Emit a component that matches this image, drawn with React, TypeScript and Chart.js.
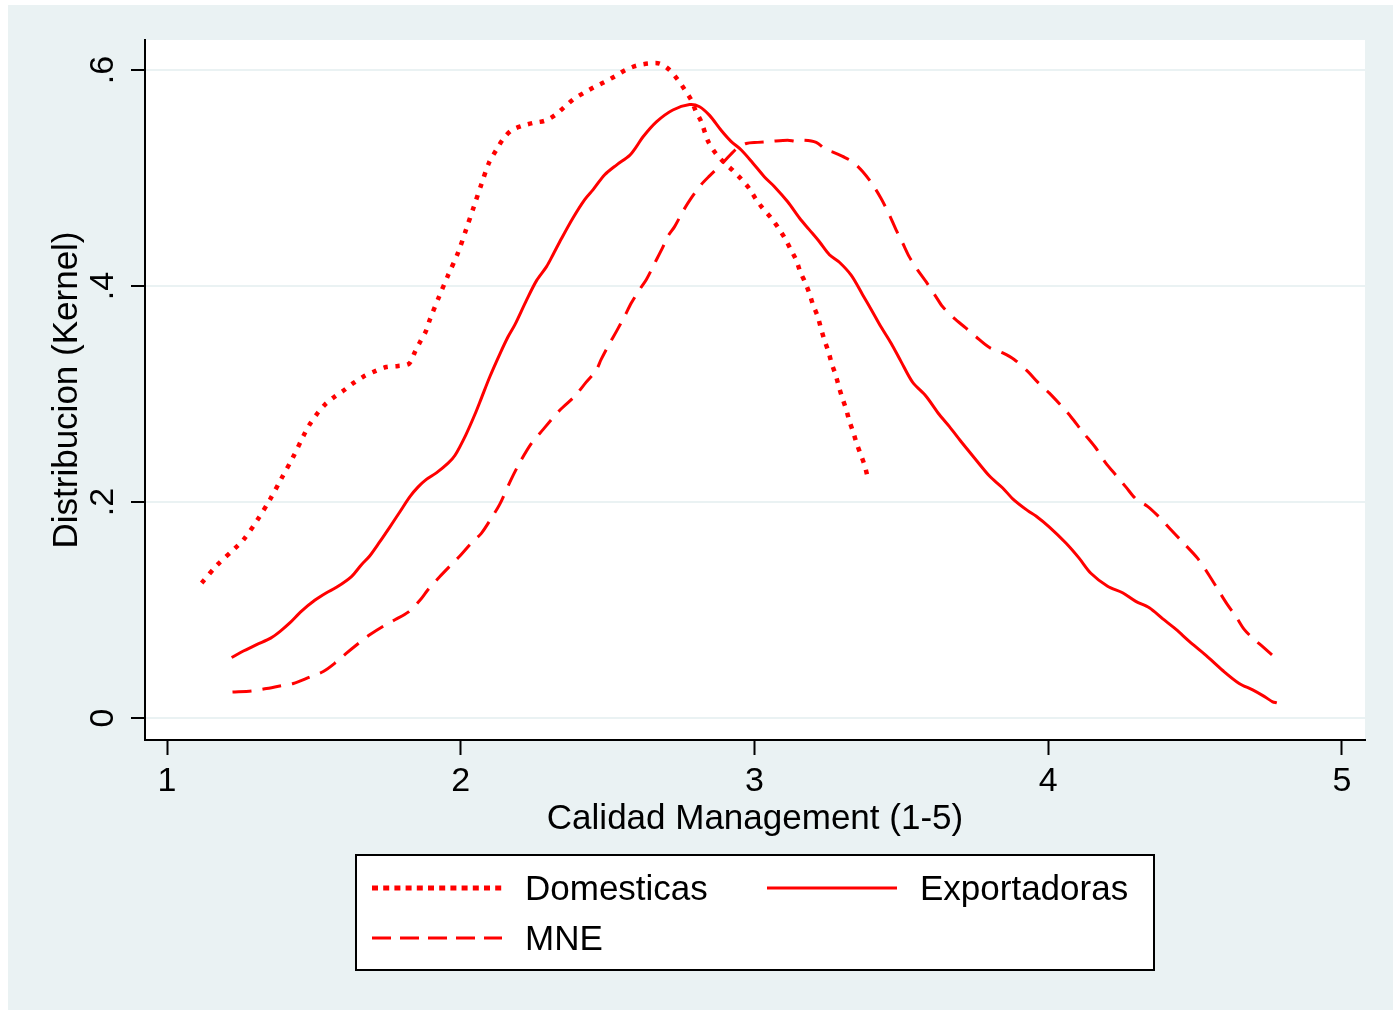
import { useEffect, useRef } from "react";
import { Chart, registerables } from "chart.js";

Chart.register(...registerables);

// ---------- Data ----------
const SERIES_LABELS = ["Domesticas", "Exportadoras", "MNE"];

const DOM_X = [
  1.118, 1.172, 1.231, 1.26, 1.307, 1.35, 1.39, 1.43, 1.466, 1.486, 1.509, 1.537, 1.568, 1.6, 1.634, 1.668,
  1.707, 1.747, 1.787, 1.824, 1.844, 1.861, 1.881, 1.895, 1.926, 1.957, 1.991, 2.019, 2.044, 2.07, 2.096,
  2.121, 2.144, 2.172, 2.206, 2.246, 2.286, 2.32, 2.354, 2.384, 2.42, 2.453, 2.49, 2.524, 2.561, 2.598,
  2.639, 2.677, 2.711, 2.739, 2.762, 2.785, 2.8, 2.819, 2.842, 2.87, 2.898, 2.926, 2.955, 2.983, 3.006,
  3.028, 3.057, 3.083, 3.104, 3.125, 3.142, 3.156, 3.173, 3.187, 3.2, 3.215, 3.226, 3.238, 3.252, 3.263,
  3.276, 3.287, 3.298, 3.312, 3.323, 3.337, 3.348, 3.363, 3.376, 3.385,
];
const DOM_Y = [
  0.125, 0.142, 0.157, 0.165, 0.183, 0.202, 0.222, 0.242, 0.262, 0.272, 0.281, 0.29, 0.297, 0.303, 0.31, 0.316,
  0.321, 0.325, 0.326, 0.328, 0.339, 0.348, 0.358, 0.369, 0.39, 0.41, 0.431, 0.453, 0.473, 0.494, 0.514,
  0.526, 0.536, 0.544, 0.548, 0.551, 0.553, 0.558, 0.566, 0.573, 0.579, 0.584, 0.589, 0.594, 0.6, 0.604,
  0.606, 0.606, 0.6, 0.591, 0.582, 0.572, 0.562, 0.552, 0.534, 0.522, 0.514, 0.507, 0.499, 0.49, 0.48,
  0.472, 0.463, 0.453, 0.444, 0.433, 0.424, 0.413, 0.403, 0.393, 0.382, 0.372, 0.361, 0.35, 0.339, 0.328,
  0.318, 0.307, 0.297, 0.286, 0.275, 0.264, 0.254, 0.243, 0.233, 0.223,
];

const EXP_X = [
  1.22, 1.26, 1.305, 1.353, 1.384, 1.418, 1.458, 1.503, 1.543, 1.577, 1.628, 1.662, 1.69, 1.724, 1.759, 1.793,
  1.827, 1.855, 1.883, 1.917, 1.957, 1.98, 2.017, 2.048, 2.07, 2.099, 2.133, 2.161, 2.184, 2.224, 2.258,
  2.292, 2.314, 2.343, 2.382, 2.422, 2.45, 2.49, 2.53, 2.575, 2.598, 2.62, 2.666, 2.722, 2.779, 2.813,
  2.847, 2.887, 2.92, 2.955, 2.994, 3.034, 3.068, 3.113, 3.153, 3.187, 3.221, 3.255, 3.289, 3.329, 3.368,
  3.402, 3.431, 3.465, 3.499, 3.538, 3.584, 3.629, 3.663, 3.703, 3.748, 3.8, 3.845, 3.879, 3.93, 3.958,
  4.003, 4.06, 4.105, 4.145, 4.202, 4.253, 4.298, 4.344, 4.389, 4.435, 4.48, 4.537, 4.594, 4.65, 4.696,
  4.735, 4.764, 4.778,
];
const EXP_Y = [
  0.056, 0.062, 0.068, 0.074, 0.08, 0.088, 0.099, 0.109, 0.116, 0.121, 0.131, 0.142, 0.15, 0.163, 0.177, 0.191,
  0.205, 0.214, 0.221, 0.227, 0.236, 0.243, 0.262, 0.281, 0.296, 0.316, 0.337, 0.353, 0.364, 0.387, 0.405,
  0.418, 0.429, 0.444, 0.463, 0.48, 0.489, 0.503, 0.512, 0.521, 0.529, 0.538, 0.552, 0.563, 0.568, 0.566,
  0.558, 0.544, 0.534, 0.526, 0.514, 0.501, 0.492, 0.478, 0.463, 0.452, 0.441, 0.429, 0.422, 0.41, 0.392,
  0.376, 0.362, 0.347, 0.33, 0.311, 0.298, 0.281, 0.27, 0.256, 0.241, 0.224, 0.213, 0.203, 0.192, 0.187,
  0.177, 0.162, 0.148, 0.134, 0.122, 0.116, 0.108, 0.102, 0.092, 0.082, 0.071, 0.058, 0.044, 0.032, 0.026,
  0.02, 0.015, 0.014,
];

const MNE_X = [
  1.223, 1.288, 1.333, 1.39, 1.43, 1.486, 1.532, 1.577, 1.611, 1.656, 1.69, 1.736, 1.776, 1.821, 1.861, 1.889,
  1.929, 1.968, 1.997, 2.036, 2.07, 2.104, 2.133, 2.17, 2.2, 2.24, 2.28, 2.337, 2.388, 2.427, 2.461, 2.478,
  2.507, 2.53, 2.558, 2.58, 2.607, 2.632, 2.66, 2.688, 2.705, 2.728, 2.756, 2.781, 2.819, 2.847, 2.892,
  2.938, 2.972, 3.011, 3.057, 3.113, 3.142, 3.17, 3.21, 3.244, 3.267, 3.3, 3.334, 3.368, 3.402, 3.431,
  3.459, 3.482, 3.504, 3.527, 3.555, 3.584, 3.618, 3.64, 3.68, 3.72, 3.754, 3.8, 3.845, 3.884, 3.93, 3.964,
  4.003, 4.048, 4.077, 4.117, 4.162, 4.196, 4.23, 4.264, 4.298, 4.338, 4.378, 4.412, 4.457, 4.508, 4.548,
  4.582, 4.61, 4.639, 4.667, 4.696, 4.73, 4.776,
];
const MNE_Y = [
  0.024, 0.025, 0.027, 0.03, 0.032, 0.038, 0.043, 0.052, 0.06, 0.07, 0.077, 0.085, 0.091, 0.098, 0.109, 0.119,
  0.131, 0.142, 0.15, 0.162, 0.171, 0.185, 0.198, 0.22, 0.236, 0.254, 0.267, 0.285, 0.298, 0.311, 0.322, 0.332,
  0.347, 0.358, 0.372, 0.384, 0.396, 0.406, 0.421, 0.436, 0.446, 0.455, 0.469, 0.48, 0.494, 0.502, 0.514,
  0.527, 0.532, 0.533, 0.534, 0.535, 0.534, 0.535, 0.533, 0.526, 0.524, 0.52, 0.515, 0.506, 0.494, 0.481,
  0.466, 0.452, 0.44, 0.427, 0.415, 0.404, 0.39, 0.381, 0.37, 0.361, 0.353, 0.343, 0.338, 0.332, 0.321, 0.311,
  0.301, 0.288, 0.279, 0.265, 0.25, 0.236, 0.225, 0.214, 0.203, 0.196, 0.186, 0.176, 0.163, 0.148, 0.132,
  0.117, 0.105, 0.094, 0.082, 0.074, 0.066, 0.055,
];

const X_TICKS = [1, 2, 3, 4, 5];
const X_TICK_LABELS = ["1", "2", "3", "4", "5"];
const Y_TICKS = [0, 0.2, 0.4, 0.6];
const Y_TICK_LABELS = ["0", ".2", ".4", ".6"];

const X_TITLE = "Calidad Management (1-5)";
const Y_TITLE = "Distribucion (Kernel)";

// ---------- Style ----------
const FONT = "'Liberation Sans', Arial, Helvetica, sans-serif";
const FONT_SIZE = 35;
const TICK_FONT_SIZE = 34;
const RED = "#FF0000";
const BG = "#EAF2F3";
const W = 1385;
const H = 1005;

const toPoints = (xs: number[], ys: number[]) => xs.map((x, i) => ({ x, y: ys[i] }));

const bgPlugin = {
  id: "stataBackground",
  beforeDraw(chart: any) {
    const { ctx, chartArea, width, height } = chart;
    ctx.save();
    ctx.fillStyle = BG;
    ctx.fillRect(0, 0, width, height);
    ctx.fillStyle = "#ffffff";
    ctx.fillRect(chartArea.left, chartArea.top, chartArea.right - chartArea.left, chartArea.bottom - chartArea.top);
    ctx.restore();
  },
};

const legendPlugin = {
  id: "boxedLegend",
  afterDraw(chart: any) {
    const { ctx, chartArea } = chart;
    const boxW = 798;
    const boxH = 115;
    const cx = (chartArea.left + chartArea.right) / 2;
    const left = cx - boxW / 2;
    const top = chartArea.bottom + 115;
    ctx.save();
    ctx.fillStyle = "#ffffff";
    ctx.fillRect(left, top, boxW, boxH);
    ctx.strokeStyle = "#000000";
    ctx.lineWidth = 2;
    ctx.setLineDash([]);
    ctx.strokeRect(left, top, boxW, boxH);
    const cols = [left + 16, left + 411];
    const rows = [top + 33, top + 83];
    chart.data.datasets.forEach((ds: any, i: number) => {
      const x0 = cols[i % 2];
      const y = rows[Math.floor(i / 2)];
      ctx.beginPath();
      ctx.strokeStyle = ds.borderColor;
      ctx.lineWidth = ds.legendWidth;
      ctx.lineCap = "butt";
      ctx.setLineDash(ds.legendDash);
      ctx.moveTo(x0, y);
      ctx.lineTo(x0 + 130, y);
      ctx.stroke();
      ctx.setLineDash([]);
      ctx.fillStyle = "#000000";
      ctx.font = `${FONT_SIZE}px ${FONT}`;
      ctx.textBaseline = "middle";
      ctx.textAlign = "left";
      ctx.fillText(ds.label, x0 + 153, y + 2);
    });
    ctx.restore();
  },
};

export default function App() {
  const canvasRef = useRef<HTMLCanvasElement | null>(null);

  useEffect(() => {
    const canvas = canvasRef.current;
    if (!canvas) return;
    const font = { family: FONT, size: FONT_SIZE };
    const tickFont = { family: FONT, size: TICK_FONT_SIZE };
    const chart = new Chart(canvas, {
      type: "line",
      data: {
        datasets: [
          {
            label: SERIES_LABELS[0],
            data: toPoints(DOM_X, DOM_Y),
            borderColor: RED,
            borderWidth: 4.5,
            borderDash: [4.5, 7.5],
            legendWidth: 5,
            legendDash: [6, 5.2],
          } as any,
          {
            label: SERIES_LABELS[1],
            data: toPoints(EXP_X, EXP_Y),
            borderColor: RED,
            borderWidth: 3,
            borderDash: [],
            legendWidth: 3,
            legendDash: [],
          } as any,
          {
            label: SERIES_LABELS[2],
            data: toPoints(MNE_X, MNE_Y),
            borderColor: RED,
            borderWidth: 3,
            borderDash: [19, 11],
            legendWidth: 3,
            legendDash: [19, 9],
          } as any,
        ],
      },
      options: {
        animation: false,
        responsive: false,
        maintainAspectRatio: false,
        events: [],
        layout: { padding: { left: 0, right: 28, top: 35, bottom: 170 } },
        elements: {
          point: { radius: 0 },
          line: { tension: 0.3, fill: false },
        },
        plugins: {
          legend: { display: false },
          tooltip: { enabled: false },
        },
        scales: {
          x: {
            type: "linear",
            min: 0.9251,
            max: 5.0783,
            afterBuildTicks: (s: any) => {
              s.ticks = X_TICKS.map((v) => ({ value: v }));
            },
            afterFit: (s: any) => {
              s.height = 100;
            },
            grid: {
              display: true,
              drawOnChartArea: false,
              drawTicks: true,
              tickLength: 15,
              tickColor: "#000000",
              tickWidth: 2,
            },
            border: { display: true, color: "#000000", width: 2 },
            ticks: {
              color: "#000000",
              font: tickFont,
              padding: 6,
              maxRotation: 0,
              minRotation: 0,
              autoSkip: false,
              callback: (v: any) => X_TICK_LABELS[X_TICKS.indexOf(Number(v))] ?? "",
            },
            title: {
              display: true,
              text: X_TITLE,
              color: "#000000",
              font,
              padding: { top: 0, bottom: 0 },
            },
          },
          y: {
            type: "linear",
            min: -0.02037,
            max: 0.6278,
            afterBuildTicks: (s: any) => {
              s.ticks = Y_TICKS.map((v) => ({ value: v }));
            },
            afterFit: (s: any) => {
              s.width = 137;
            },
            grid: {
              display: true,
              color: BG,
              lineWidth: 2,
              drawTicks: true,
              tickLength: 14,
              tickColor: "#000000",
              tickWidth: 2,
            },
            border: { display: true, color: "#000000", width: 2 },
            ticks: {
              color: "#000000",
              font: tickFont,
              padding: 13,
              minRotation: 90,
              maxRotation: 90,
              crossAlign: "center",
              autoSkip: false,
              callback: (v: any) => Y_TICK_LABELS[Y_TICKS.indexOf(Number(v))] ?? "",
            },
            title: {
              display: true,
              text: Y_TITLE,
              color: "#000000",
              font,
              padding: { top: 38, bottom: 0 },
            },
          },
        },
      },
      plugins: [bgPlugin, legendPlugin],
    } as any);
    return () => chart.destroy();
  }, []);

  return (
    <div
      style={{
        position: "absolute",
        left: 8,
        top: 5,
        width: W,
        height: H,
        background: BG,
        overflow: "hidden",
      }}
    >
      <canvas ref={canvasRef} width={W} height={H} style={{ display: "block", width: W, height: H }} />
    </div>
  );
}
